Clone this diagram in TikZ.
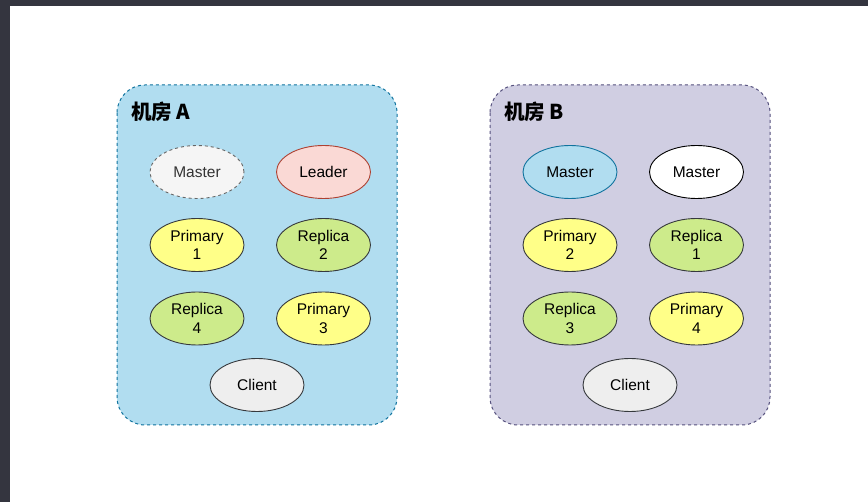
\documentclass[tikz,border=0pt]{standalone}
\usepackage{fontspec}
\setmainfont{Liberation Sans}
\newfontfamily\cjkfont{Noto Sans CJK SC}
\usetikzlibrary{shapes.geometric}
\definecolor{frame}{HTML}{34353F}
\definecolor{roomAfill}{HTML}{B1DDF0}
\definecolor{roomAline}{HTML}{10739E}
\definecolor{roomBfill}{HTML}{D0CEE2}
\definecolor{roomBline}{HTML}{56517E}
\definecolor{grayfill}{HTML}{F5F5F5}
\definecolor{grayline}{HTML}{666666}
\definecolor{graytext}{HTML}{333333}
\definecolor{leaderfill}{HTML}{FAD9D5}
\definecolor{leaderline}{HTML}{AE4132}
\definecolor{primfill}{HTML}{FFFF88}
\definecolor{replfill}{HTML}{CDEB8B}
\definecolor{clientfill}{HTML}{EEEEEE}
\definecolor{darkline}{HTML}{36393D}
\tikzset{
  room/.style={rounded corners=28pt, line width=1pt, dash pattern=on 3pt off 3pt},
  oval/.style={ellipse, minimum width=94pt, minimum height=53pt, inner sep=0pt,
    line width=0.9pt, draw=darkline, align=center, font=\fontsize{15.5}{18.5}\selectfont},
  mastergray/.style={oval, fill=grayfill, draw=grayline, dash pattern=on 3pt off 3pt, text=graytext},
  leader/.style={oval, fill=leaderfill, draw=leaderline},
  prim/.style={oval, fill=primfill},
  repl/.style={oval, fill=replfill},
  client/.style={oval, fill=clientfill},
  masterblue/.style={oval, fill=roomAfill, draw=roomAline},
  masterwhite/.style={oval, fill=white, draw=black},
  roomtitle/.style={anchor=west, inner sep=0pt, font=\cjkfont\bfseries\fontsize{20.5}{22}\selectfont}
}
\begin{document}
\begin{tikzpicture}[x=1pt, y=-1pt]
\useasboundingbox (0,0) rectangle (868,502);
\fill[white] (0,0) rectangle (868,502);
% window frame
\fill[frame] (0,0) rectangle (868,6);
\fill[frame] (0,0) rectangle (10,502);

% room A
\draw[room, fill=roomAfill, draw=roomAline] (117,85) rectangle (397,425);
\node[roomtitle] (titleA) at (131,112) {机房 A};
\node[mastergray] (mA) at (197,172) {Master};
\node[leader] (ldA) at (323.5,172) {Leader};
\node[prim] (p1A) at (197,245) {Primary\\1};
\node[repl] (r2A) at (323.5,245) {Replica\\2};
\node[repl] (r4A) at (197,318.5) {Replica\\4};
\node[prim] (p3A) at (323.5,318.5) {Primary\\3};
\node[client] (cA) at (257,385) {Client};

% room B
\draw[room, fill=roomBfill, draw=roomBline] (490,85) rectangle (770,425);
\node[roomtitle] (titleB) at (504,112) {机房 B};
\node[masterblue] (m1B) at (570,172) {Master};
\node[masterwhite] (m2B) at (696.5,172) {Master};
\node[prim] (p2B) at (570,245) {Primary\\2};
\node[repl] (r1B) at (696.5,245) {Replica\\1};
\node[repl] (r3B) at (570,318.5) {Replica\\3};
\node[prim] (p4B) at (696.5,318.5) {Primary\\4};
\node[client] (cB) at (630,385) {Client};
\end{tikzpicture}
\end{document}
